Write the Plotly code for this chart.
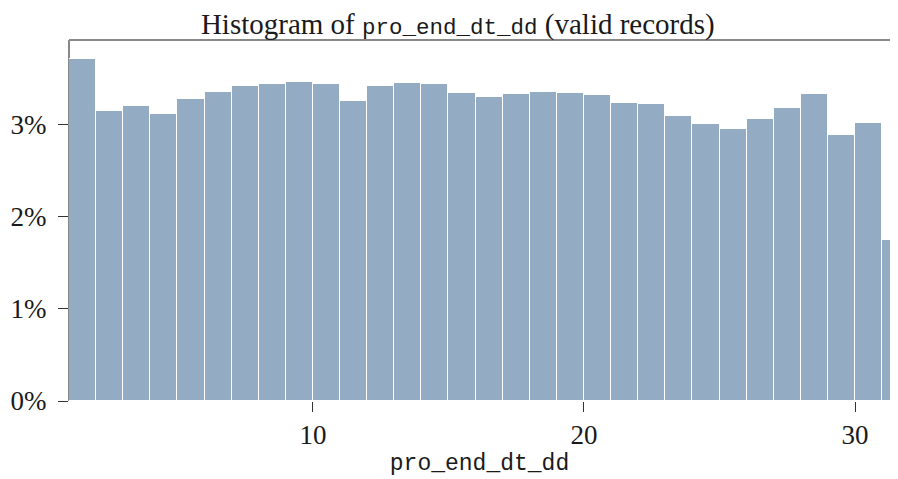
import plotly.graph_objects as go

# day of month and share of valid records (%)
days = list(range(1, 32))
pct = [3.71, 3.15, 3.20, 3.11, 3.28, 3.35, 3.42, 3.44, 3.46, 3.44,
       3.25, 3.42, 3.45, 3.44, 3.34, 3.30, 3.33, 3.35, 3.34, 3.32,
       3.23, 3.22, 3.09, 3.00, 2.95, 3.06, 3.18, 3.33, 2.89, 3.02,
       1.75]
ytick_vals = [0, 1, 2, 3]
ytick_text = ["0%", "1%", "2%", "3%"]
xtick_vals = [10, 20, 30]

serif = "Liberation Serif"
mono = "Liberation Mono"

bars = go.Bar(x=days, y=pct, offset=0, width=1,
              marker=dict(color="#93acc4", line=dict(color="white", width=1)),
              hoverinfo="x+y")

title_txt = ("Histogram of <span style='font-family:%s;font-size:22.5px'>pro_end_dt_dd</span>"
             " (valid records)" % mono)

# page body adds an 8px margin, so the figure is sized to the visible area
layout = go.Layout(
    width=882, height=471, autosize=False,
    margin=dict(l=61, r=0, t=32, b=78),
    paper_bgcolor="white", plot_bgcolor="white",
    font=dict(family=serif, size=26, color="#1a1a1a"),
    title=dict(text=title_txt, x=0.51, xanchor="center", y=0.966, yanchor="middle",
               xref="container", yref="container", font=dict(family=serif, size=29)),
    bargap=0,
    showlegend=False,
    xaxis=dict(range=[1, 31.29], tickvals=xtick_vals, ticks="outside", ticklen=10,
               tickcolor="#333", showgrid=False, zeroline=False, showline=False,
               tickfont=dict(family=serif, size=27), ticklabelstandoff=0,
               title=dict(text="pro_end_dt_dd", font=dict(family=mono, size=23), standoff=4)),
    yaxis=dict(range=[0, 3.915], tickvals=ytick_vals, ticktext=ytick_text, ticks="outside",
               ticklen=10, tickcolor="#333", showgrid=False, zeroline=False,
               showline=False, tickfont=dict(family=serif, size=27), ticklabelstandoff=6),
    shapes=[
        dict(type="line", xref="paper", yref="paper", x0=0, x1=1, y0=1, y1=1,
             line=dict(color="#888", width=2), layer="below"),
        dict(type="line", xref="paper", yref="paper", x0=0, x1=0, y0=0, y1=1,
             line=dict(color="#888", width=2), layer="below"),
    ],
)

fig = go.Figure(data=[bars], layout=layout)
fig.write_html("out.html")
